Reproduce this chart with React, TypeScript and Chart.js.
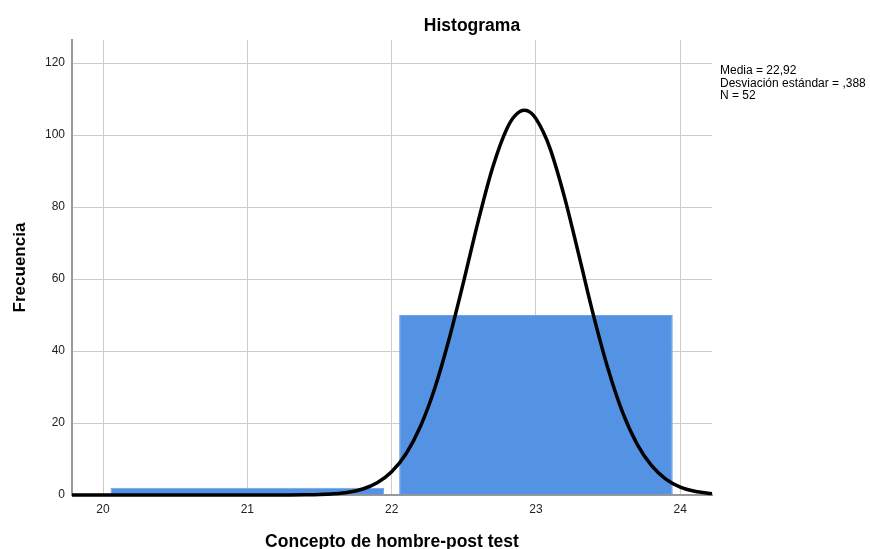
import React, { useEffect, useRef } from "react";
import { Chart, registerables } from "chart.js";

Chart.register(...registerables);

// Histogram bins (centres) and counts
const binCenters = [21, 23];
const binCounts = [2, 50];

// Normal curve
const curveX = [19.785, 20.0, 20.2, 20.4, 20.6, 20.8, 21.0, 21.2, 21.3, 21.4, 21.5, 21.6, 21.7, 21.8, 21.9, 22.0, 22.1, 22.2, 22.3, 22.4, 22.5, 22.6, 22.7, 22.8, 22.86, 22.92, 22.98, 23.05, 23.1, 23.2, 23.3, 23.4, 23.5, 23.6, 23.7, 23.8, 23.9, 24.0, 24.1, 24.22];
const curveY = [0, 0, 0, 0, 0, 0, 0, 0.01, 0.02, 0.05, 0.13, 0.33, 0.76, 1.66, 3.38, 6.43, 11.46, 19.1, 29.8, 43.6, 59.5, 76.1, 91.0, 101.9, 105.6, 106.9, 105.6, 100.9, 96.0, 82.4, 66.2, 49.7, 35.0, 23.0, 14.2, 8.2, 4.4, 2.2, 1.05, 0.38];

const xTicks = [20, 21, 22, 23, 24];
const yTicks = [0, 20, 40, 60, 80, 100, 120];

const titleText = "Histograma";
const xTitle = "Concepto de hombre-post test";
const yTitle = "Frecuencia";
const statsLines = ["Media = 22,92", "Desviación estándar = ,388", "N = 52"];

const FONT = "'Liberation Sans', Arial, sans-serif";

export default function App() {
  const ref = useRef<HTMLCanvasElement | null>(null);

  useEffect(() => {
    document.body.style.margin = "0";
    const canvas = ref.current;
    if (!canvas) return;

    const textPlugin = {
      id: "textPlugin",
      afterDraw(chart: any) {
        const ctx = chart.ctx;
        ctx.save();
        ctx.fillStyle = "#000";
        ctx.font = `bold 17.5px ${FONT}`;
        ctx.textAlign = "center";
        ctx.textBaseline = "alphabetic";
        ctx.fillText(titleText, 472, 31);
        ctx.font = `12px ${FONT}`;
        ctx.textAlign = "left";
        statsLines.forEach((l, i) => ctx.fillText(l, 720, 74 + i * 12.5));
        ctx.restore();
      },
    };

    const chart = new Chart(canvas, {
      type: "bar",
      data: {
        datasets: [
          {
            type: "line",
            data: curveX.map((x, i) => ({ x, y: curveY[i] })),
            borderColor: "#000",
            borderWidth: 3.5,
            pointRadius: 0,
            cubicInterpolationMode: "monotone",
            clip: false,
            order: 0,
          } as any,
          {
            type: "bar",
            data: binCenters.map((x, i) => ({ x, y: binCounts[i] })),
            backgroundColor: "#5493e3",
            borderColor: "#6ea3ea",
            borderWidth: 1,
            barPercentage: 1.896,
            categoryPercentage: 1,
            order: 1,
          } as any,
        ],
      },
      options: {
        animation: false,
        responsive: false,
        layout: { padding: { left: 0, right: 158, top: 40, bottom: 0 } },
        plugins: { legend: { display: false }, tooltip: { enabled: false }, title: { display: false } },
        scales: {
          x: {
            type: "linear",
            min: 19.785,
            max: 24.22,
            offset: false,
            afterBuildTicks: (s: any) => {
              s.ticks = xTicks.map((v) => ({ value: v }));
            },
            afterFit: (s: any) => {
              s.height = 54;
            },
            ticks: {
              color: "#222",
              font: { family: FONT, size: 12 },
              padding: 7,
              maxRotation: 0,
              callback: (v: any) => String(v),
            },
            grid: { color: "#cccccc", lineWidth: 1, drawTicks: false, offset: false },
            border: { display: true, color: "#999999", width: 2 },
            title: {
              display: true,
              text: xTitle,
              color: "#000",
              font: { family: FONT, size: 17.5, weight: "bold" },
              padding: { top: 20, bottom: -4 },
            },
          },
          y: {
            type: "linear",
            min: 0,
            max: 126.4,
            afterBuildTicks: (s: any) => {
              s.ticks = yTicks.map((v) => ({ value: v }));
            },
            afterFit: (s: any) => {
              s.width = 72;
            },
            ticks: {
              color: "#222",
              font: { family: FONT, size: 12 },
              padding: 7,
              callback: (v: any) => String(v),
            },
            grid: { color: "#cccccc", lineWidth: 1, drawTicks: false },
            border: { display: true, color: "#999999", width: 2 },
            title: {
              display: true,
              text: yTitle,
              color: "#000",
              font: { family: FONT, size: 17, weight: "bold" },
              padding: { top: 10, bottom: 0 },
            },
          },
        },
      },
      plugins: [textPlugin],
    });

    return () => chart.destroy();
  }, []);

  return (
    <div style={{ position: "absolute", left: 0, top: 0 }}>
      <canvas ref={ref} width={870} height={549} style={{ width: 870, height: 549 }} />
    </div>
  );
}
